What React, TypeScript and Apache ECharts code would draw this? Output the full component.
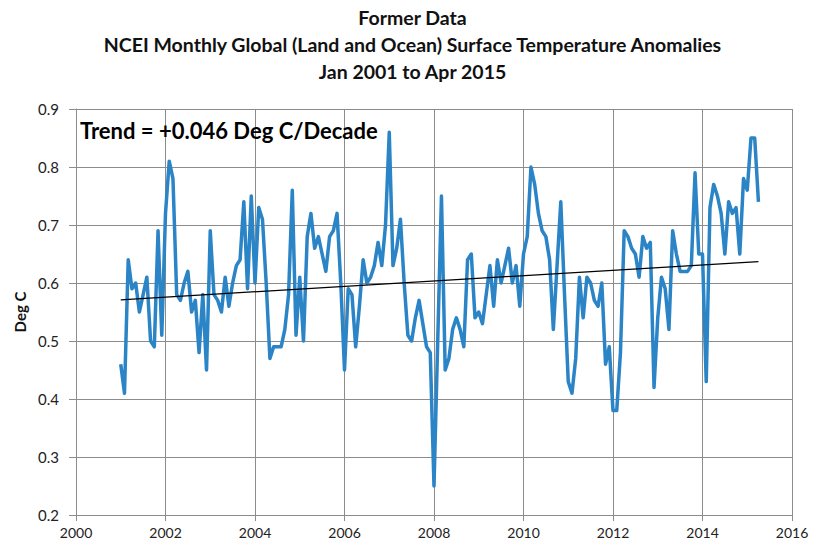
import React, { useEffect, useRef } from "react";
import * as echarts from "echarts";

const startYear = 2001;
const a2001 = [0.46, 0.41, 0.64, 0.59, 0.60, 0.55, 0.58, 0.61, 0.50, 0.49, 0.69, 0.51];
const a2002 = [0.72, 0.81, 0.78, 0.58, 0.57, 0.60, 0.62, 0.55, 0.57, 0.48, 0.58, 0.45];
const a2003 = [0.69, 0.58, 0.57, 0.55, 0.61, 0.56, 0.60, 0.63, 0.64, 0.74, 0.59, 0.75];
const a2004 = [0.60, 0.73, 0.71, 0.60, 0.47, 0.49, 0.49, 0.49, 0.52, 0.58, 0.76, 0.51];
const a2005 = [0.61, 0.50, 0.68, 0.72, 0.66, 0.68, 0.65, 0.62, 0.68, 0.69, 0.72, 0.60];
const a2006 = [0.45, 0.59, 0.58, 0.49, 0.56, 0.64, 0.60, 0.61, 0.63, 0.67, 0.63, 0.70];
const a2007 = [0.86, 0.63, 0.66, 0.71, 0.60, 0.51, 0.50, 0.54, 0.57, 0.53, 0.49, 0.48];
const a2008 = [0.25, 0.50, 0.75, 0.45, 0.47, 0.52, 0.54, 0.52, 0.49, 0.64, 0.65, 0.54];
const a2009 = [0.55, 0.53, 0.58, 0.63, 0.56, 0.64, 0.60, 0.63, 0.66, 0.60, 0.63, 0.56];
const a2010 = [0.65, 0.68, 0.80, 0.77, 0.72, 0.69, 0.68, 0.64, 0.52, 0.63, 0.74, 0.58];
const a2011 = [0.43, 0.41, 0.47, 0.61, 0.54, 0.61, 0.60, 0.57, 0.56, 0.60, 0.46, 0.49];
const a2012 = [0.38, 0.38, 0.48, 0.69, 0.68, 0.66, 0.65, 0.61, 0.68, 0.66, 0.67, 0.42];
const a2013 = [0.54, 0.61, 0.59, 0.52, 0.69, 0.65, 0.62, 0.62, 0.62, 0.63, 0.79, 0.65];
const a2014 = [0.65, 0.43, 0.73, 0.77, 0.75, 0.72, 0.65, 0.74, 0.72, 0.73, 0.65, 0.78];
const a2015 = [0.76, 0.85, 0.85, 0.74];

const monthlyAnomalies = [
  ...a2001, ...a2002, ...a2003, ...a2004, ...a2005, ...a2006, ...a2007, ...a2008,
  ...a2009, ...a2010, ...a2011, ...a2012, ...a2013, ...a2014, ...a2015,
];

const xMin = 2000;
const xMax = 2016;
const xStep = 2;
const yMin = 0.2;
const yMax = 0.9;
const yStep = 0.1;
const trendStart = 0.571;
const trendEnd = 0.637;
const trendLabel = "Trend = +0.046 Deg C/Decade";
const yAxisName = "Deg C";
const titleLines = [
  "Former Data",
  "NCEI Monthly Global (Land and Ocean) Surface Temperature Anomalies",
  "Jan 2001 to Apr 2015",
];

export default function App() {
  const ref = useRef<HTMLDivElement>(null);
  useEffect(() => {
    document.body.style.margin = "0";
    const chart = echarts.init(ref.current!, null, { renderer: "svg" });
    const data = monthlyAnomalies.map((v, i) => [startYear + i / 12, v]);
    const first = data[0][0];
    const last = data[data.length - 1][0];
    const gridColor = "#8c8c8c";
    chart.setOption({
      animation: false,
      backgroundColor: "#ffffff",
      title: {
        text: titleLines.join("\n"),
        left: "center",
        top: 4,
        padding: 0,
        textStyle: {
          fontFamily: "Lato",
          fontWeight: "bold",
          fontSize: 19.5,
          lineHeight: 27,
          color: "#111",
        },
      },
      graphic: [
        {
          type: "text",
          left: 80,
          top: 119,
          style: {
            text: trendLabel,
            fontFamily: "Lato",
            fontWeight: "bold",
            fontSize: 22,
            fill: "#000",
          },
          z: 10,
        },
      ],
      grid: { left: 76, right: 33, top: 109, bottom: 31, containLabel: false },
      xAxis: {
        type: "value",
        min: xMin,
        max: xMax,
        interval: xStep,
        axisLine: { show: true, lineStyle: { color: gridColor, width: 1 } },
        axisTick: { show: true, length: 6, lineStyle: { color: gridColor } },
        axisLabel: {
          fontFamily: "Lato",
          fontSize: 14,
          color: "#222",
          margin: 10,
          formatter: (v: number) => String(v),
        },
        splitLine: { show: true, lineStyle: { color: gridColor, width: 1 } },
      },
      yAxis: {
        type: "value",
        min: yMin,
        max: yMax,
        interval: yStep,
        name: yAxisName,
        nameLocation: "middle",
        nameGap: 47,
        nameTextStyle: {
          fontFamily: "Lato",
          fontWeight: "bold",
          fontSize: 15,
          color: "#111",
        },
        axisLine: { show: true, lineStyle: { color: gridColor, width: 1 } },
        axisTick: { show: true, length: 7, lineStyle: { color: gridColor } },
        axisLabel: {
          fontFamily: "Lato",
          fontSize: 15,
          color: "#222",
          margin: 17,
          formatter: (v: number) => v.toFixed(1),
        },
        splitLine: { show: true, lineStyle: { color: gridColor, width: 1 } },
      },
      series: [
        {
          type: "line",
          data,
          showSymbol: false,
          symbol: "none",
          lineStyle: { color: "#2A84C6", width: 3.5, join: "round" },
          z: 2,
        },
        {
          type: "line",
          data: [
            [first, trendStart],
            [last, trendEnd],
          ],
          showSymbol: false,
          symbol: "none",
          lineStyle: { color: "#000", width: 1.2 },
          z: 3,
        },
      ],
    });
    return () => chart.dispose();
  }, []);
  return <div ref={ref} style={{ width: 825, height: 546 }} />;
}
